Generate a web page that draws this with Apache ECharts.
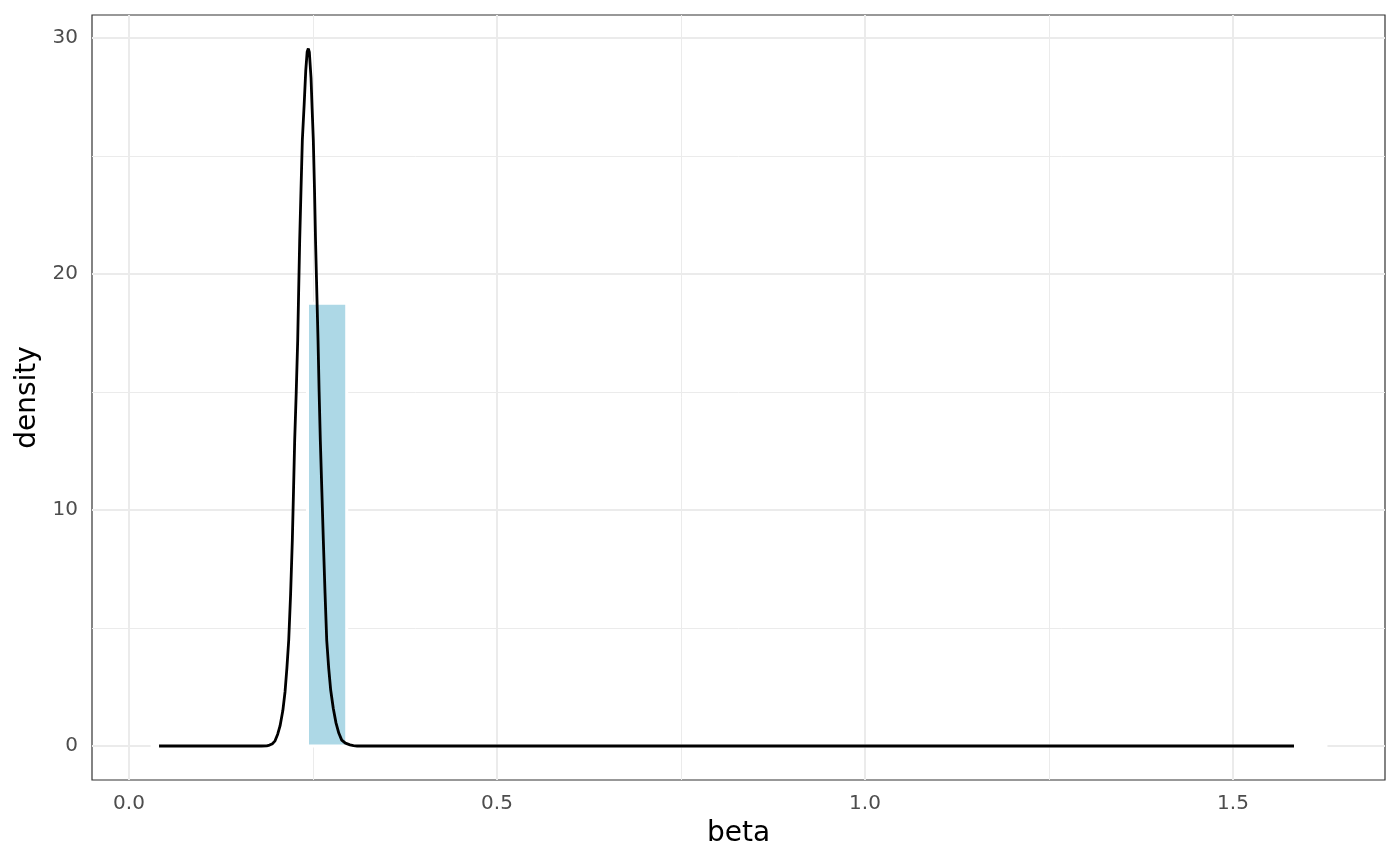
<!DOCTYPE html>
<html>
<head>
<meta charset="utf-8">
<script src="https://cdn.jsdelivr.net/npm/echarts@6/dist/echarts.min.js"></script>
<style>html,body{margin:0;padding:0;background:#fff}#c{width:1400px;height:865px}</style>
</head>
<body>
<div id="c"></div>
<script>
// ---- data ----
const xTicks = [0, 0.5, 1.0, 1.5];
const xMinor = [0.25, 0.75, 1.25];
const yTicks = [0, 10, 20, 30];
const yMinor = [5, 15, 25];
const binStart = 0.0293;
const binWidth = 0.0533;
const histDensity = [0,0,0,0,18.76,0,0,0,0,0,0,0,0,0,0,0,0,0,0,0,0,0,0,0,0,0,0,0,0,0];
const curveX = [0.0408, 0.150, 0.180, 0.1871, 0.1910, 0.1950, 0.1984, 0.2020, 0.2052, 0.2090,
                0.2120, 0.2145, 0.2170, 0.2195, 0.2219, 0.2235, 0.2251, 0.2272, 0.2292, 0.2305,
                0.2319, 0.2337, 0.2355, 0.2380, 0.2401, 0.2420, 0.2436, 0.2450, 0.2473, 0.2488,
                0.2504, 0.2520, 0.2534, 0.2551, 0.2568, 0.2583, 0.2599, 0.2620, 0.2640, 0.2663,
                0.2686, 0.2713, 0.2740, 0.2775, 0.2812, 0.2850, 0.2890, 0.2940, 0.3003, 0.3050,
                0.3100, 1.5829];
const curveY = [0, 0, 0, 0.01, 0.04, 0.10, 0.22, 0.50, 0.85, 1.5,
                2.3, 3.3, 4.49, 6.4, 8.73, 10.8, 12.97, 15.0, 17.2, 19.3,
                21.44, 23.6, 25.68, 27.2, 28.6, 29.4, 29.55, 29.4, 28.3, 27.0,
                25.68, 23.6, 21.44, 19.3, 17.2, 15.0, 12.97, 10.8, 8.73, 6.5,
                4.49, 3.3, 2.37, 1.6, 0.98, 0.55, 0.25, 0.12, 0.05, 0.02,
                0, 0];

// ---- build ----
const histData = histDensity.map((d, i) => [binStart + i * binWidth, binStart + (i + 1) * binWidth, d]);
const curveData = curveX.map((x, i) => [x, curveY[i]]);
const gridCol = '#EBEBEB';
const gridLines = [];
xTicks.forEach(v => gridLines.push({xAxis: v, lineStyle: {color: gridCol, width: 2, type: 'solid'}}));
xMinor.forEach(v => gridLines.push({xAxis: v, lineStyle: {color: gridCol, width: 1, type: 'solid'}}));
yTicks.forEach(v => gridLines.push({yAxis: v, lineStyle: {color: gridCol, width: 2, type: 'solid'}}));
yMinor.forEach(v => gridLines.push({yAxis: v, lineStyle: {color: gridCol, width: 1, type: 'solid'}}));

const chart = echarts.init(document.getElementById('c'), null, {renderer: 'canvas'});
const font = 'DejaVu Sans';
chart.setOption({
  animation: false,
  backgroundColor: '#ffffff',
  grid: {left: 92, right: 15, top: 15, bottom: 85, show: true, borderColor: '#333333', borderWidth: 1.2, backgroundColor: 'transparent'},
  xAxis: {
    type: 'value', min: -0.0503, max: 1.7065,
    name: 'beta', nameLocation: 'middle', nameGap: 40,
    nameTextStyle: {color: '#000', fontSize: 28, fontFamily: font},
    axisLine: {show: false},
    splitLine: {show: false},
    axisTick: {show: true, customValues: xTicks, length: 7, lineStyle: {color: '#333333', width: 2}},
    axisLabel: {customValues: xTicks, color: '#4D4D4D', fontSize: 20, fontFamily: font, margin: 14,
      formatter: v => v.toFixed(1)}
  },
  yAxis: {
    type: 'value', min: -1.44, max: 30.97,
    name: 'density', nameLocation: 'middle', nameGap: 46, nameRotate: 90,
    nameTextStyle: {color: '#000', fontSize: 28, fontFamily: font},
    axisLine: {show: false},
    splitLine: {show: false},
    axisTick: {show: true, customValues: yTicks, length: 7, lineStyle: {color: '#333333', width: 2}},
    axisLabel: {customValues: yTicks, color: '#4D4D4D', fontSize: 20, fontFamily: font, margin: 14}
  },
  series: [
    {type: 'line', data: [], z: 1, silent: true,
     markLine: {z: 1, silent: true, symbol: ['none', 'none'], label: {show: false}, animation: false, data: gridLines}},
    {type: 'custom', z: 2, clip: true, silent: true, data: histData,
     renderItem: function (params, api) {
       const p0 = api.coord([api.value(0), 0]);
       const p1 = api.coord([api.value(1), api.value(2)]);
       if (api.value(2) === 0) {
         return {type: 'line', shape: {x1: p0[0], y1: p0[1], x2: p1[0], y2: p0[1]},
           style: {stroke: '#FFFFFF', lineWidth: 3}};
       }
       return {type: 'rect',
         shape: {x: p0[0], y: p1[1], width: p1[0] - p0[0], height: p0[1] - p1[1]},
         style: {fill: '#ADD8E6', stroke: '#FFFFFF', lineWidth: 3}};
     }},
    {type: 'line', z: 10, zlevel: 1, data: curveData, showSymbol: false, smooth: false, silent: true,
     lineStyle: {color: '#000000', width: 2.8}}
  ]
});
</script>
</body>
</html>
